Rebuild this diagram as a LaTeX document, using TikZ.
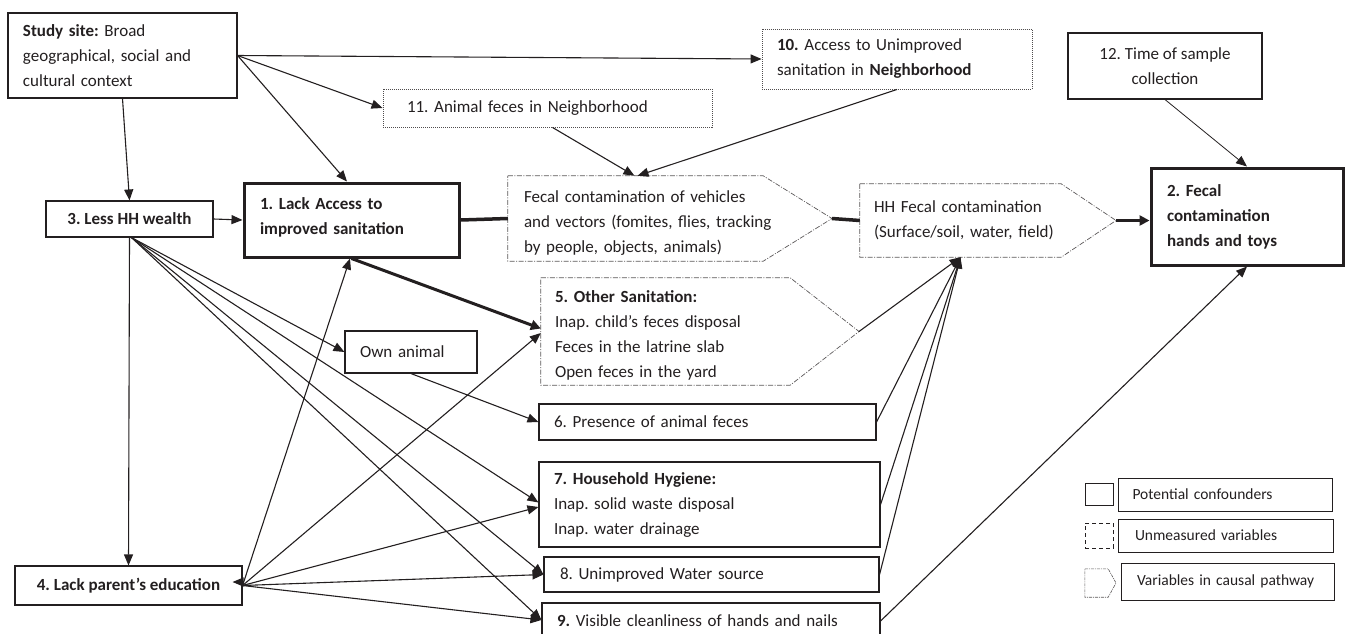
\documentclass[tikz,border=0pt]{standalone}
\usepackage{fontspec}
\setmainfont{Carlito}
\usetikzlibrary{arrows.meta}
\definecolor{ink}{HTML}{231F20}
\frenchspacing
\hbadness=10000 \hfuzz=200pt
\tikzset{
  txt/.style={font=\fontsize{17}{25}\selectfont, align=left, inner ysep=0pt, text=ink},
  box/.style={txt, draw=ink, line width=1.1pt},
  thickbox/.style={txt, draw=ink, line width=3pt},
  dotbox/.style={txt, draw=ink!80, line width=0.9pt, dash pattern=on 1pt off 1pt},
  dashdot/.style={draw=ink!75, line width=0.7pt, dash pattern=on 5pt off 1.5pt on 1pt off 1.5pt},
  arr/.style={draw=ink, line width=1.1pt, -{Triangle[length=11pt,width=9pt]}},
  thinarr/.style={draw=ink, line width=0.8pt, -{Triangle[length=11pt,width=9pt]}},
  thickarr/.style={draw=ink, line width=3pt, -{Triangle[length=10pt,width=10pt]}},
  thickline/.style={draw=ink, line width=3.5pt},
  legtxt/.style={font=\fontsize{15.5}{18}\selectfont, align=left, text=ink}
}
\begin{document}
\begin{tikzpicture}[x=1pt,y=-1pt]
\useasboundingbox (0,0) rectangle (1346,633);
\clip (0,0) rectangle (1346,633);

% ---------------- nodes ----------------
\node[box, minimum width=229, minimum height=85, text width=199, inner xsep=15] (study) at (122.5,55.5)
  {\textbf{Study site:} Broad\\geographical, social and\\cultural context};
\node[box, minimum width=167, minimum height=36, align=center] (n3) at (129.5,219) {\textbf{3. Less HH wealth}};
\node[thickbox, minimum width=215, minimum height=74, text width=183, inner xsep=16] (n1) at (351.5,220)
  {\textbf{1. Lack Access to}\\\textbf{improved sanitation}\\[-17pt]\mbox{}};
\node[dotbox, minimum width=329, minimum height=38, text width=281, inner xsep=24] (n11) at (547.5,108)
  {11. Animal feces in Neighborhood};
\node[dotbox, minimum width=270, minimum height=60, text width=240, inner xsep=15] (n10) at (897,59)
  {\textbf{10.} Access to Unimproved\\sanitation in \textbf{Neighborhood}};
\node[box, minimum width=194, minimum height=66, align=center] (n12) at (1165,66)
  {12. Time of sample\\collection};
\node[thickbox, minimum width=192, minimum height=97, text width=160, inner xsep=16] (n2) at (1247,216.5)
  {\textbf{2. Fecal}\\\textbf{contamination}\\\textbf{hands and toys}};

% pathway pentagons
\node[txt, minimum width=239, minimum height=85, text width=223, inner xsep=16] (fv) at (635.5,218.5)
  {\rule{0pt}{20pt}\mbox{Fecal contamination of vehicles}\\\mbox{and vectors (fomites, flies, tracking}\\\mbox{by people, objects, animals)}};
\coordinate (fvtip) at (832,218.5);
\draw[dashdot] (fv.north west) -- (fv.north east) -- (fvtip) -- (fv.south east) -- (fv.south west) -- cycle;

\node[txt, minimum width=187, minimum height=73, text width=173, inner xsep=14] (hh) at (960.5,220.5)
  {\mbox{HH Fecal contamination}\\\mbox{(Surface/soil, water, field)}};
\coordinate (hhtip) at (1116,220.5);
\draw[dashdot] (hh.north west) -- (hh.north east) -- (hhtip) -- (hh.south east) -- (hh.south west) -- cycle;

\node[txt, minimum width=235, minimum height=107, text width=221, inner xsep=14] (n5) at (665.5,331.5)
  {\rule{0pt}{20pt}\textbf{5. Other Sanitation:}\\\mbox{Inap. child’s feces disposal}\\\mbox{Feces in the latrine slab}\\\mbox{Open feces in the yard}};
\coordinate (n5tip) at (859,331.5);
\draw[dashdot] (n5.north west) -- (n5.north east) -- (n5tip) -- (n5.south east) -- (n5.south west) -- cycle;

\node[box, minimum width=132, minimum height=42, text width=102, inner xsep=15] (own) at (411,352) {Own animal};
\node[box, minimum width=337, minimum height=36, text width=307, inner xsep=15] (n6) at (707.5,422) {6. Presence of animal feces};
\node[box, minimum width=341, minimum height=85, text width=311, inner xsep=15] (n7) at (709.5,504.5)
  {\textbf{7. Household Hygiene:}\\Inap. solid waste disposal\\Inap. water drainage};
\node[box, minimum width=335, minimum height=35, text width=303, inner xsep=16] (n8) at (711.5,574.5) {8. Unimproved Water source};
\node[box, minimum width=338, minimum height=36, text width=308, inner xsep=15] (n9) at (711,621)
  {\textbf{9.} Visible cleanliness of hands and nails};
\node[box, minimum width=227, minimum height=39, align=center] (n4) at (128.5,585.5) {\textbf{4. Lack parent’s education}};

% ---------------- legend ----------------
\node[draw=ink, line width=1pt, minimum width=28, minimum height=22, inner sep=0pt] (lg1) at (1099,494) {};
\node[draw=ink, line width=1pt, minimum width=214, minimum height=33, legtxt, text width=185, inner xsep=14.5] (lt1) at (1225,494.5) {Potential confounders};
\node[draw=ink, line width=1pt, dash pattern=on 4pt off 3pt, minimum width=28, minimum height=25, inner sep=0pt] (lg2) at (1099,535.5) {};
\node[draw=ink, line width=1pt, minimum width=214, minimum height=33, legtxt, text width=182, inner xsep=16.5] (lt2) at (1226,535.5) {Unmeasured variables};
\node[minimum width=23, minimum height=28, inner sep=0pt] (lg3) at (1096.5,583) {};
\coordinate (lg3tip) at (1116,583);
\draw[dashdot, line width=0.6pt, dash pattern=on 3pt off 1pt on 1pt off 1pt] (lg3.north west) -- (lg3.north east) -- (lg3tip) -- (lg3.south east) -- (lg3.south west) -- cycle;
\node[draw=ink, line width=1pt, minimum width=213, minimum height=37, legtxt, text width=181, inner xsep=16] (lt3) at (1227.5,581.5) {Variables in causal pathway};

% ---------------- connectors ----------------
\draw[arr] (study.east) -- (n10.west);
\draw[arr] (study.east) -- (n11.west);
\draw[arr] (study.east) -- ([xshift=-4.5pt]n1.north);
\draw[arr] (study.south) -- (n3.north);
\draw[arr] (n3.east) -- (n1.west);
\draw[arr] (n3.south) -- (n4.north);

% fan from 3
\draw[arr] ([xshift=2pt]n3.south) -- (own.west);
\draw[arr] ([xshift=2pt]n3.south) -- ([yshift=2pt]n7.west);
\draw[arr] ([xshift=2pt]n3.south) -- (n8.west);
\draw[arr] ([xshift=2pt]n3.south) -- ([yshift=1pt]n9.west);

% fan from 4
\draw[arr] (n4.east) -- ([xshift=-1.5pt]n1.south);
\draw[arr] (n4.east) -- ([yshift=-1.5pt]n5.west);
\draw[arr] (n4.east) -- ([yshift=-2.5pt]n7.west);
\draw[arr] (n4.east) -- (n8.west);
\draw[arr] (n4.east) -- ([yshift=1pt]n9.west);
\coordinate (n4in) at (243,582);
\draw[arr, shorten >=1pt] (n4in) -- ([yshift=3.5pt,xshift=-11pt]n4.east);

\draw[thickarr] (n1.south) -- ([yshift=3pt]n5.west);
\draw[arr] (own.south) -- (n6.west);

% main causal pathway
\draw[thickline] (n1.east) -- (fv.west);
\draw[thickline] (fvtip) -- (hh.west);
\draw[thickarr] (hhtip) -- (hhtip -| n2.west);

\draw[arr] ([xshift=5pt]n11.south) -- ([xshift=-1pt]fv.north);
\draw[arr] (n10.south) -- ([xshift=2pt]fv.north);
\draw[thinarr] (n12.south) -- (n2.north);

% into HH fecal contamination
\draw[arr] (n5tip) -- (hh.south);
\draw[arr] (n6.east) -- (hh.south);
\draw[arr] (n7.east) -- (hh.south);
\draw[arr] (n8.east) -- (hh.south);
\draw[arr] (n9.east) -- (n2.south);
\end{tikzpicture}
\end{document}
